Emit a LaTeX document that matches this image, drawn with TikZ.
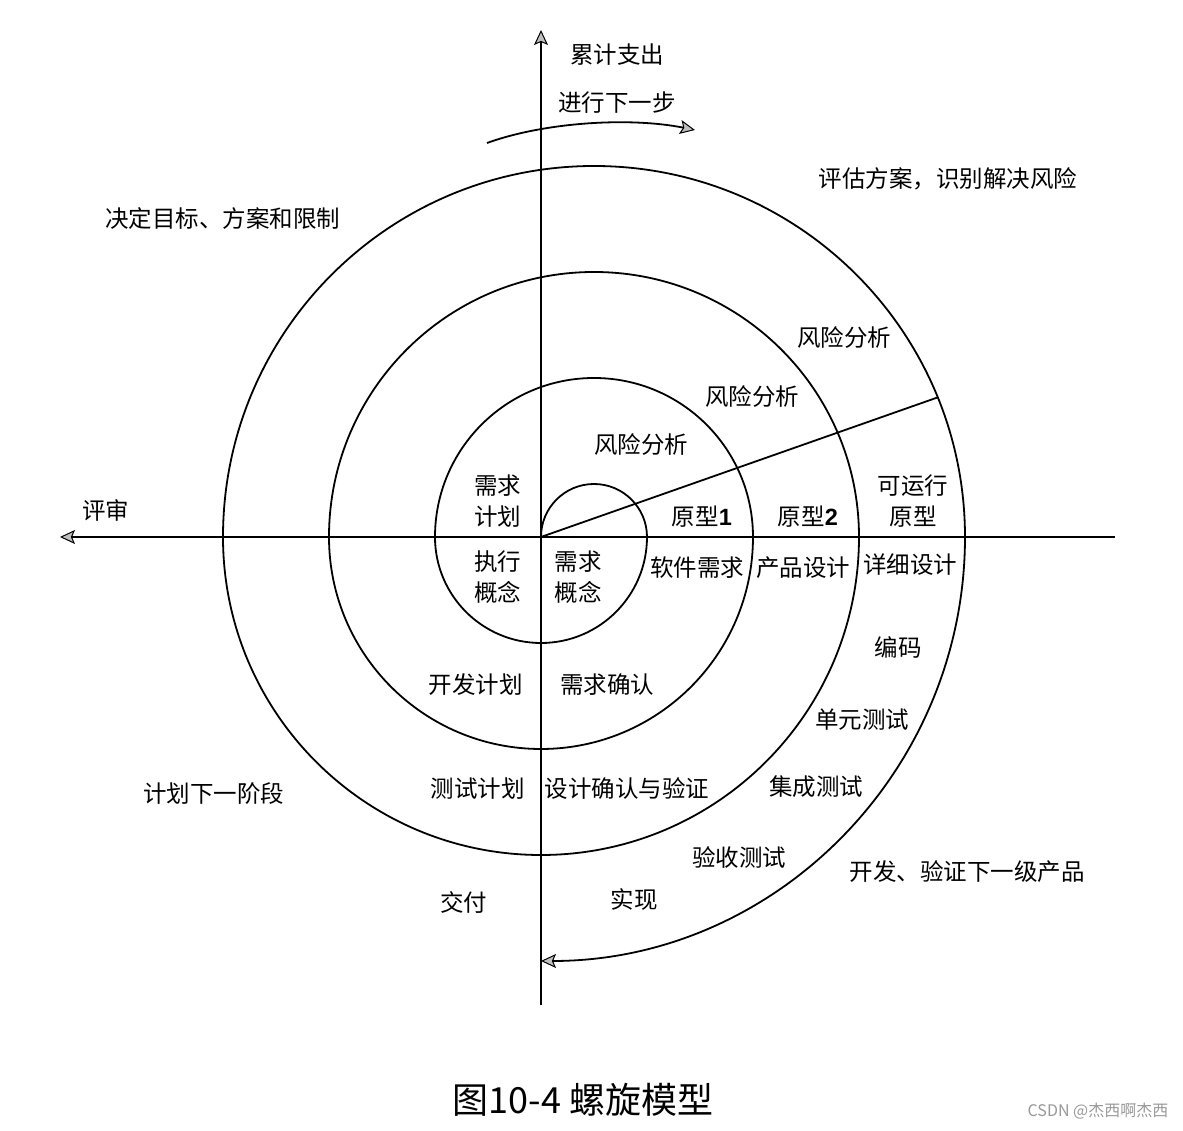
\documentclass[tikz,border=0pt]{standalone}
\usepackage{fontspec}
\setmainfont{Noto Sans CJK SC}
\newfontfamily\latinb{Liberation Sans}
\usetikzlibrary{arrows.meta}
\begin{document}
\begin{tikzpicture}[x=1pt,y=1pt,
  lbl/.style={inner sep=0pt, font=\fontsize{23.5}{31}\selectfont, align=center},
  spiral/.style={line width=1.8pt},
  axis/.style={line width=2pt},
  tip/.style={-{Stealth[length=15pt,width=14pt,inset=3pt,fill=gray!50,line width=1pt]}}
]
\useasboundingbox (-541,-594) rectangle (642,537);
\fill[white] (-541,-594) rectangle (642,537);

% axes
\coordinate (vbot) at (0,-468);
\coordinate (vtop) at (0,507);
\coordinate (hright) at (574,0);
\coordinate (hleft) at (-481,0);
\draw[axis,tip] (vbot) -- (vtop);
\draw[axis,tip] (hright) -- (hleft);

% spiral
\coordinate (O) at (0,0);
\draw[spiral,tip] (O) arc[start angle=180,end angle=0,radius=53]
  arc[start angle=0,end angle=-180,radius=106]
  arc[start angle=180,end angle=0,radius=159]
  arc[start angle=0,end angle=-180,radius=212]
  arc[start angle=180,end angle=0,radius=265]
  arc[start angle=0,end angle=-180,radius=318]
  arc[start angle=180,end angle=0,radius=371]
  arc[start angle=0,end angle=-90,radius=424];

% radial line
\coordinate (R) at (396.7,139.6);
\draw[spiral] (O) -- (R);

% top arrow arc
\coordinate (ta) at (-54,394);
\coordinate (tb) at (154,407);
\draw[spiral,tip] (ta) .. controls (4,415) and (89,420) .. (tb);

% labels
\node[lbl] (l1) at (76,482) {累计支出};
\node[lbl] (l2) at (76,434) {进行下一步};
\node[lbl] (l3) at (407,358) {评估方案，识别解决风险};
\node[lbl] (l4) at (-318,318) {决定目标、方案和限制};
\node[lbl] (l5) at (303,199) {风险分析};
\node[lbl] (l6) at (211,140) {风险分析};
\node[lbl] (l7) at (100,92) {风险分析};
\node[lbl] (l8) at (-43,36) {需求\\计划};
\node[lbl] (l9) at (-435,27) {评审};
\node[lbl] (l10) at (161,20) {原型{\latinb\bfseries 1}};
\node[lbl] (l11) at (267,20) {原型{\latinb\bfseries 2}};
\node[lbl] (l12) at (372,36) {可运行\\原型};
\node[lbl] (l13) at (-43,-40) {执行\\概念};
\node[lbl] (l14) at (37,-40) {需求\\概念};
\node[lbl] (l15) at (156,-31) {软件需求};
\node[lbl] (l16) at (262,-31) {产品设计};
\node[lbl] (l17) at (369,-28) {详细设计};
\node[lbl] (l18) at (357,-110) {编码};
\node[lbl] (l19) at (-65,-148) {开发计划};
\node[lbl] (l20) at (66,-148) {需求确认};
\node[lbl] (l21) at (321,-183) {单元测试};
\node[lbl] (l22) at (-63,-252) {测试计划};
\node[lbl] (l23) at (86,-252) {设计确认与验证};
\node[lbl] (l24) at (275,-250) {集成测试};
\node[lbl] (l25) at (-327,-257) {计划下一阶段};
\node[lbl] (l26) at (198,-320) {验收测试};
\node[lbl] (l27) at (426,-335) {开发、验证下一级产品};
\node[lbl] (l28) at (-77,-365) {交付};
\node[lbl] (l29) at (93,-363) {实现};

\node[inner sep=0pt, font=\fontsize{36}{38}\selectfont] (cap) at (42,-563) {图10-4 螺旋模型};
\node[inner sep=0pt, text=gray!80, font=\fontsize{16}{18}\selectfont] (wm) at (557,-574) {CSDN @杰西啊杰西};
\end{tikzpicture}
\end{document}
